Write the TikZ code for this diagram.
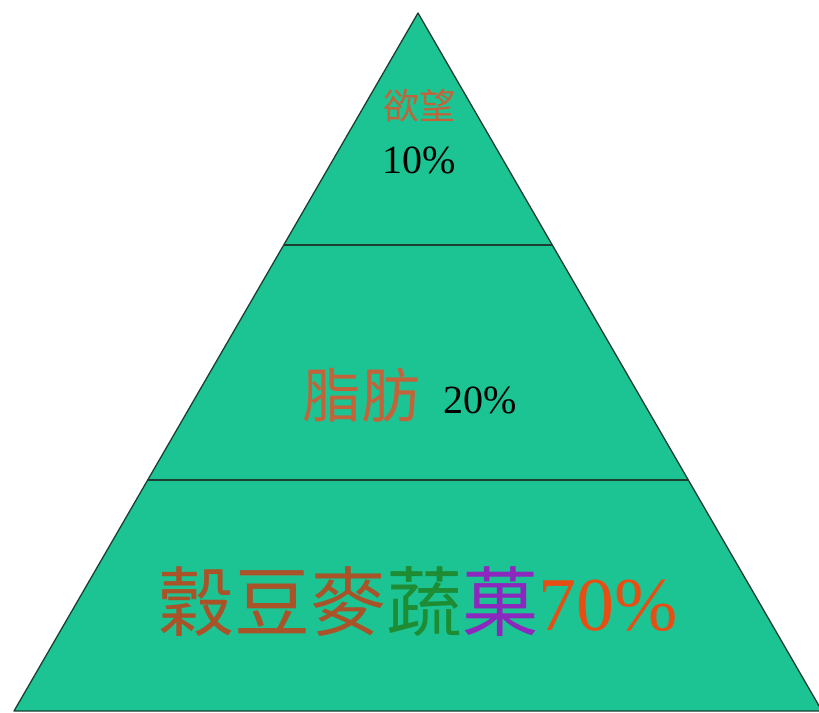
\documentclass[tikz,border=0pt]{standalone}
\usepackage{fontspec}
\setmainfont{Liberation Serif}
\newfontfamily\cjk{Noto Sans CJK TC}
\definecolor{pyrfill}{RGB}{27,196,146}
\definecolor{pyrline}{RGB}{30,62,50}
\definecolor{txtbrown}{RGB}{196,98,58}
\definecolor{grainbrown}{RGB}{170,82,40}
\definecolor{veggreen}{RGB}{30,140,50}
\definecolor{fruitpurple}{RGB}{140,40,190}
\definecolor{pctred}{RGB}{232,78,20}
\tikzset{
  layerline/.style={pyrline,line width=1.3pt},
  label/.style={inner sep=0pt,anchor=center}
}
\begin{document}
\begin{tikzpicture}[x=1pt,y=-1pt]
              \useasboundingbox (0,0) rectangle (819,712);
              \coordinate (apex) at (418,13);
              \coordinate (bl) at (14,711);
              \coordinate (br) at (822,711);
              \coordinate (tl) at (284,245);
              \coordinate (tr) at (552,245);
              \coordinate (ml) at (148,480);
              \coordinate (mr) at (688,480);
              \fill[pyrfill] (apex) -- (bl) -- (br) -- cycle;
              \draw[layerline,line join=round] (apex) -- (bl) -- (br) -- cycle;
              \draw[layerline] (tl) -- (tr);
              \draw[layerline] (ml) -- (mr);
              \node[label,text=txtbrown,font=\cjk\fontsize{36}{36}\selectfont] (desire) at (419,106) {欲望};
              \node[label,font=\fontsize{40}{40}\selectfont] (desirepct) at (419,160) {10\%};
              \node[label,text=txtbrown,font=\cjk\fontsize{59}{59}\selectfont] (fat) at (361,395) {脂肪};
              \node[label,font=\fontsize{40}{40}\selectfont] (fatpct) at (480,400) {20\%};
              \node[label,font=\cjk\fontsize{76}{76}\selectfont] (grain) at (418,602)
                {\textcolor{grainbrown}{穀豆麥}\textcolor{veggreen}{蔬}\textcolor{fruitpurple}{菓}\textcolor{pctred}{\rmfamily 70\%}};
        \end{tikzpicture}
\end{document}
